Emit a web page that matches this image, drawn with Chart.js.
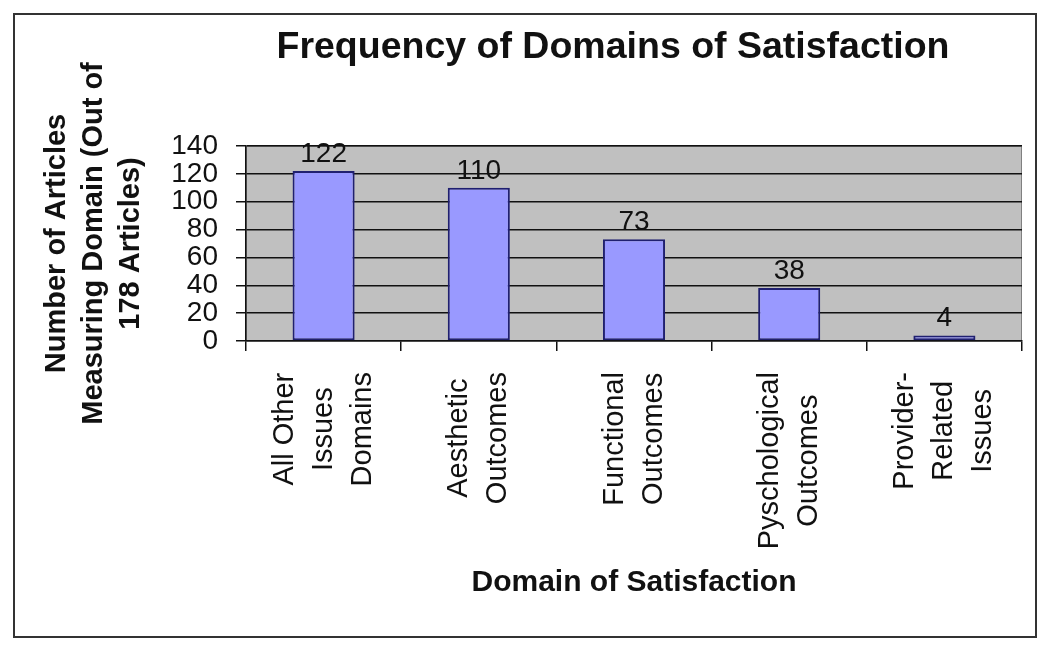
<!DOCTYPE html>
<html>

<head>
    <meta charset="utf-8">
    <script src="https://cdn.jsdelivr.net/npm/chart.js@4.4.1/dist/chart.umd.min.js"></script>
    <style>
        body {
            margin: 0;
            background: #fff;
        }

        #chart-container {
            width: 1050px;
            height: 648px;
            position: relative;
        }
    </style>
</head>

<body>
    <div id="chart-container">
        <canvas id="domainChart"></canvas>
    </div>
    <script>
        // data
        const categories = [
            ["All Other", "Issues", "Domains"],
            ["Aesthetic", "Outcomes"],
            ["Functional", "Outcomes"],
            ["Pyschological", "Outcomes"],
            ["Provider-", "Related", "Issues"]
        ];
        const articleCounts = [122, 110, 73, 38, 4];
        const yTickValues = [0, 20, 40, 60, 80, 100, 120, 140];

        const chartTitle = "Frequency of Domains of Satisfaction";
        const xTitle = "Domain of Satisfaction";
        const yTitle = ["Number of Articles", "Measuring Domain (Out of", "178 Articles)"];

        const FONT = '"Liberation Sans", Arial, sans-serif';

        const ctx = document.getElementById('domainChart').getContext('2d');

        // white page, outer frame and grey plot area
        const backgroundPlugin = {
            id: 'background',
            beforeDraw: function (chart) {
                const c = chart.ctx;
                const a = chart.chartArea;
                c.save();
                c.fillStyle = '#ffffff';
                c.fillRect(0, 0, chart.width, chart.height);
                c.strokeStyle = '#333333';
                c.lineWidth = 2;
                c.strokeRect(14, 14, 1022, 623);
                c.fillStyle = '#c0c0c0';
                c.fillRect(a.left, a.top, a.right - a.left, a.bottom - a.top);
                c.strokeStyle = '#808080';
                c.lineWidth = 1;
                c.strokeRect(a.left + 0.5, a.top + 0.5, a.right - a.left - 1, a.bottom - a.top - 1);
                c.restore();
            }
        };

        // chart title, centred a bit left of the plot like the original
        const titlePlugin = {
            id: 'bigTitle',
            afterDraw: function (chart) {
                const c = chart.ctx;
                c.save();
                c.font = 'bold 37.5px ' + FONT;
                c.fillStyle = '#111';
                c.textAlign = 'center';
                c.textBaseline = 'alphabetic';
                c.fillText(chartTitle, 613, 58);
                c.restore();
            }
        };

        // value above each bar
        const valueLabels = {
            id: 'valueLabels',
            afterDatasetsDraw: function (chart) {
                const c = chart.ctx;
                const meta = chart.getDatasetMeta(0);
                c.save();
                c.font = '28px ' + FONT;
                c.fillStyle = '#111';
                c.textAlign = 'center';
                c.textBaseline = 'alphabetic';
                meta.data.forEach(function (bar, i) {
                    c.fillText(String(articleCounts[i]), bar.x, bar.y - 9);
                });
                c.restore();
            }
        };

        // rotated category labels, lines centred on each other
        const categoryLabels = {
            id: 'categoryLabels',
            afterDraw: function (chart) {
                const c = chart.ctx;
                const x = chart.scales.x;
                const gap = 39;
                c.save();
                c.font = '29px ' + FONT;
                c.fillStyle = '#111';
                c.textAlign = 'center';
                c.textBaseline = 'middle';
                categories.forEach(function (lines, i) {
                    const cx = x.getPixelForTick(i);
                    const w = Math.max.apply(null, lines.map(function (l) { return c.measureText(l).width; }));
                    const cy = x.top + 31 + w / 2;
                    lines.forEach(function (line, j) {
                        c.save();
                        c.translate(cx + (j - (lines.length - 1) / 2) * gap, cy);
                        c.rotate(-Math.PI / 2);
                        c.fillText(line, 0, 0);
                        c.restore();
                    });
                });
                c.restore();
            }
        };

        const domainChart = new Chart(ctx, {
            type: 'bar',
            data: {
                labels: categories,
                datasets: [{
                    data: articleCounts,
                    backgroundColor: '#9999ff',
                    borderColor: '#202070',
                    borderWidth: 2,
                    borderSkipped: false,
                    categoryPercentage: 1,
                    barPercentage: 0.4
                }]
            },
            options: {
                responsive: true,
                maintainAspectRatio: false,
                animation: false,
                layout: {
                    padding: { left: 20, right: 28, top: 146, bottom: 20 }
                },
                plugins: {
                    legend: { display: false },
                    tooltip: { enabled: false },
                    title: { display: false }
                },
                scales: {
                    x: {
                        grid: {
                            offset: true,
                            drawOnChartArea: false,
                            drawTicks: true,
                            tickLength: 10,
                            color: '#111',
                            lineWidth: 1.5
                        },
                        border: { display: true, color: '#111', width: 1.5 },
                        ticks: { display: false },
                        title: {
                            display: true,
                            text: xTitle,
                            color: '#111',
                            font: { family: FONT, size: 30, weight: 'bold' },
                            padding: { top: 0, bottom: 27 }
                        },
                        afterFit: function (scale) {
                            scale.height = 648 - 20 - 341;
                        }
                    },
                    y: {
                        min: yTickValues[0],
                        max: yTickValues[yTickValues.length - 1],
                        afterBuildTicks: function (scale) {
                            scale.ticks = yTickValues.map(function (v) { return { value: v }; });
                        },
                        grid: {
                            color: '#111',
                            lineWidth: 1.5,
                            drawTicks: true,
                            tickLength: 10
                        },
                        border: { display: true, color: '#111', width: 1.5 },
                        ticks: {
                            color: '#111',
                            padding: 18,
                            autoSkip: false,
                            font: { family: FONT, size: 28 }
                        },
                        title: {
                            display: true,
                            text: yTitle,
                            color: '#111',
                            font: { family: FONT, size: 29, weight: 'bold', lineHeight: 1.28 },
                            padding: { top: 18, bottom: 0 }
                        },
                        afterFit: function (scale) {
                            scale.width = 246 - 20;
                        }
                    }
                }
            },
            plugins: [backgroundPlugin, valueLabels, categoryLabels, titlePlugin]
        });
    </script>
</body>

</html>
